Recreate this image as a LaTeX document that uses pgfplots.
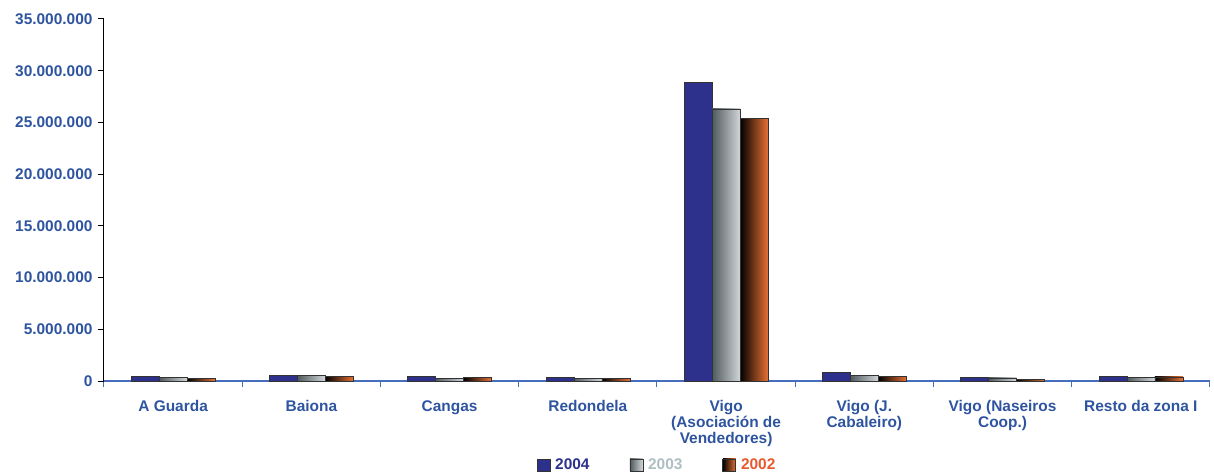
\documentclass[border=0pt]{standalone}
\usepackage{pgfplots}
\pgfplotsset{compat=1.18}
\usepackage{pgfplotstable}
\usepackage{fontspec}
\setmainfont{Liberation Sans}
\definecolor{lbl}{RGB}{46,84,160}
\definecolor{navy}{RGB}{46,49,140}
\definecolor{axblue}{RGB}{70,110,190}
\definecolor{gdark}{RGB}{80,90,94}
\definecolor{glight}{RGB}{210,214,216}
\definecolor{orng}{RGB}{232,112,52}
\definecolor{txt03}{RGB}{175,190,195}
\definecolor{txt02}{RGB}{232,90,45}

\pgfplotstableread{
x y2004 y2003 y2002
0 420000 360000 290000
1 560000 560000 480000
2 420000 260000 310000
3 310000 280000 290000
4 28900000 26300000 25400000
5 800000 580000 410000
6 320000 300000 190000
7 450000 370000 400000
}\data

\pgfplotsset{
  s2004/.style={fill=navy, draw=black!80, line width=0.6bp},
  s2003/.style={left color=gdark, right color=glight, draw=black!80, line width=0.6bp},
  s2002/.style={left color=black, right color=orng, draw=black!80, line width=0.6bp},
}

\begin{document}
\begin{tikzpicture}
\begin{axis}[
  scale only axis, width=1106bp, height=362bp,
  xmin=-0.5, xmax=7.5, ymin=0, ymax=35000000,
  ybar, bar width=28bp,
  axis x line*=bottom, axis y line*=left,
  x axis line style={axblue, line width=1.2bp},
  y axis line style={black, line width=1bp},
  tick align=outside, major tick length=6bp,
  xtick={-0.5,0.5,...,7.5},
  x tick label as interval,
  xticklabels={A Guarda,Baiona,Cangas,Redondela,{Vigo\\(Asociación de\\Vendedores)},{Vigo (J.\\Cabaleiro)},{Vigo (Naseiros\\Coop.)},Resto da zona I},
  x tick style={axblue, line width=1bp},
  y tick style={black, line width=1bp},
  ytick={0,5000000,10000000,15000000,20000000,25000000,30000000,35000000},
  yticklabels={0,5.000.000,10.000.000,15.000.000,20.000.000,25.000.000,30.000.000,35.000.000},
  scaled y ticks=false,
  ticklabel style={font=\fontsize{15.5}{16}\selectfont\bfseries, text=lbl},
  xticklabel style={align=center, yshift=-10bp},
  yticklabel style={xshift=-2bp},
  legend style={at={(0.5,-0.232)}, anchor=center, draw=none, fill=none,
    font=\fontsize{15.5}{16}\selectfont\bfseries,
    /tikz/every odd column/.append style={column sep=3bp},
    /tikz/every even column/.append style={column sep=38bp}},
  legend columns=3,
  legend image code/.code={\draw[#1] (0bp,-6bp) rectangle (13bp,6bp);},
]
\pgfplotsinvokeforeach{0,...,7}{
  \addplot[s2004, bar shift=-28bp, forget plot, x filter/.expression={x==#1 ? x : nan}] table[x=x,y=y2004]{\data};
  \addplot[s2003, bar shift=0bp, forget plot, x filter/.expression={x==#1 ? x : nan}] table[x=x,y=y2003]{\data};
  \addplot[s2002, bar shift=28bp, forget plot, x filter/.expression={x==#1 ? x : nan}] table[x=x,y=y2002]{\data};
}
\addlegendimage{s2004}
\addlegendimage{s2003}
\addlegendimage{s2002}
\legend{\textcolor{navy}{2004},\textcolor{txt03}{2003},\textcolor{txt02}{2002}}
\end{axis}
\pgfresetboundingbox
\path (-104bp,-93bp) rectangle (1110bp,381bp);
\end{tikzpicture}
\end{document}
